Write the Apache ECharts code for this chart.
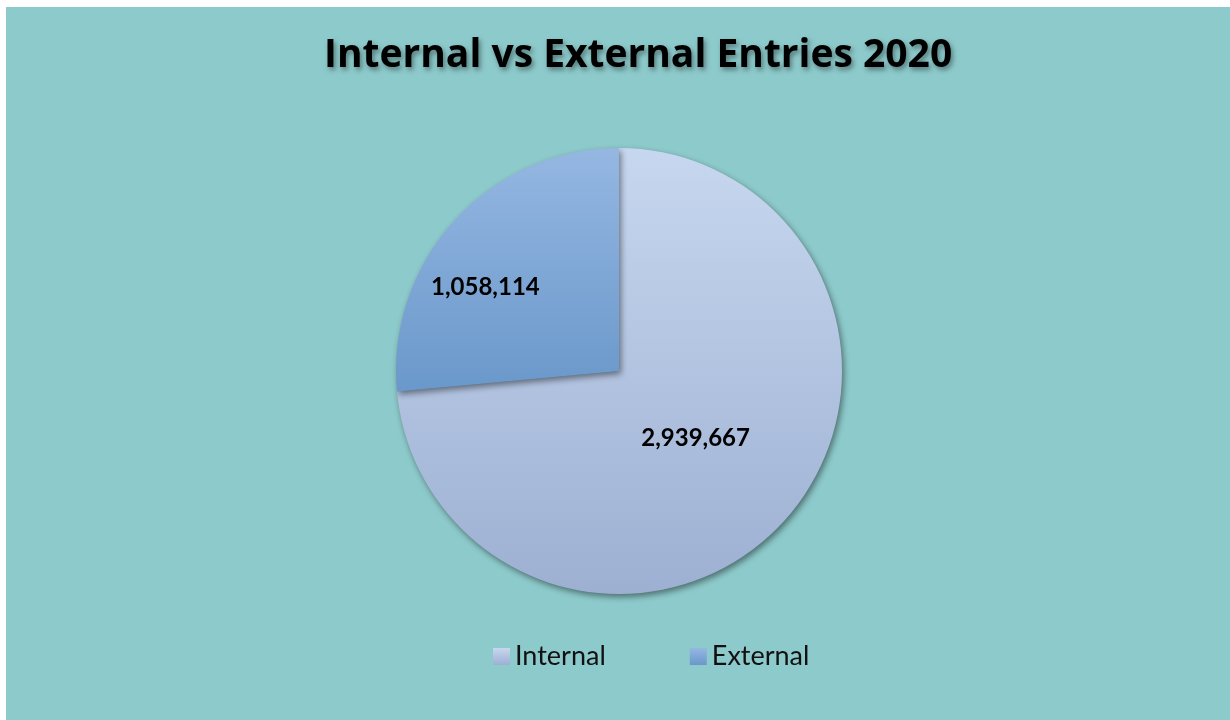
<!DOCTYPE html>
<html>
<head>
<meta charset="utf-8">
<script src="https://cdn.jsdelivr.net/npm/echarts@6/dist/echarts.min.js"></script>
<style>
  html, body { margin: 0; padding: 0; background: #ffffff; }
  #chart { position: absolute; left: 6px; top: 7px; width: 1224px; height: 713px; }
</style>
</head>
<body>
<div id="chart"></div>
<script>
const titleText = 'Internal vs External Entries 2020';
const categories = ['Internal', 'External'];
const values = [2939667, 1058114];
const topColors = ['#C7D7EF', '#95B7E2'];
const bottomColors = ['#9DB0D2', '#6A98CA'];
const labelShift = [[-8, -10], [-49, -7]];

const chart = echarts.init(document.getElementById('chart'), null, { renderer: 'canvas' });

function grad(i) {
  return new echarts.graphic.LinearGradient(0, 0, 0, 1, [
    { offset: 0, color: topColors[i] },
    { offset: 1, color: bottomColors[i] }
  ]);
}

const data = categories.map((name, i) => ({
  name: name,
  value: values[i],
  itemStyle: { color: grad(i) }
}));

const option = {
  backgroundColor: '#8DCACB',
  animation: false,
  title: {
    text: titleText,
    left: 313,
    top: 24,
    textStyle: {
      fontFamily: 'Open Sans',
      fontWeight: 'bold',
      fontSize: 39,
      color: '#000000',
      textShadowColor: 'rgba(0,0,0,0.4)',
      textShadowBlur: 5,
      textShadowOffsetX: 2,
      textShadowOffsetY: 3
    }
  },
  legend: {
    data: categories.map((name, i) => ({ name: name, itemStyle: { color: grad(i) } })),
    left: 482,
    top: 631,
    padding: 5,
    itemWidth: 17,
    itemHeight: 17,
    itemGap: 84,
    icon: 'rect',
    textStyle: { fontFamily: 'Lato', fontSize: 27, color: '#111111' }
  },
  series: [{
    type: 'pie',
    center: [613, 364],
    radius: 223,
    startAngle: 90,
    clockwise: true,
    data: data,
    itemStyle: {
      borderWidth: 0,
      shadowColor: 'rgba(0,0,0,0.45)',
      shadowBlur: 6,
      shadowOffsetX: 2,
      shadowOffsetY: 3
    },
    label: {
      show: true,
      position: 'inside',
      formatter: p => p.value.toLocaleString('en-US'),
      fontFamily: 'Lato',
      fontWeight: 'bold',
      fontSize: 24,
      color: '#000000'
    },
    labelLine: { show: false },
    labelLayout: function (params) {
      const s = labelShift[params.dataIndex];
      return { dx: s[0], dy: s[1] };
    },
    emphasis: { disabled: true }
  }]
};

chart.setOption(option);
</script>
</body>
</html>
